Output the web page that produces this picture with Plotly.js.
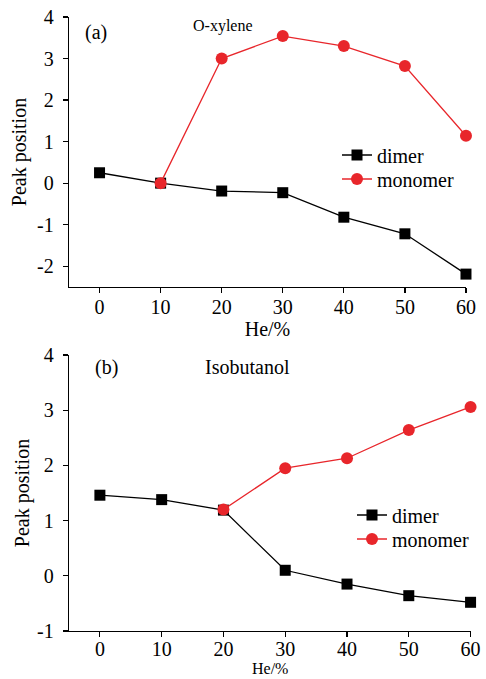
<!DOCTYPE html>
<html>
<head>
<meta charset="utf-8">
<script src="https://cdn.plot.ly/plotly-3.0.1.min.js"></script>
<style>html,body{margin:0;padding:0;background:#fff;}#chart{width:486px;height:679px;}</style>
</head>
<body>
<div id="chart"></div>
<script>
// ---- data ----
const heliumPct = [0, 10, 20, 30, 40, 50, 60];
const xyleneDimer = [0.25, 0.0, -0.19, -0.23, -0.82, -1.22, -2.19];
const xyleneMonomerX = [10, 20, 30, 40, 50, 60];
const xyleneMonomer = [0.0, 3.0, 3.54, 3.30, 2.82, 1.14];
const isobutanolDimer = [1.46, 1.38, 1.19, 0.10, -0.15, -0.36, -0.48];
const isobutanolMonomerX = [20, 30, 40, 50, 60];
const isobutanolMonomer = [1.2, 1.95, 2.13, 2.64, 3.06];
const xTicks = [0, 10, 20, 30, 40, 50, 60];
const yTicksTop = [-2, -1, 0, 1, 2, 3, 4];
const yTickTextTop = ['-2', '-1', '0', '1', '2', '3', '4'];
const yTicksBottom = [-1, 0, 1, 2, 3, 4];
const yTickTextBottom = ['-1', '0', '1', '2', '3', '4'];

const FONT = 'Liberation Serif';
const RED = '#e8262b';
const BLACK = '#000000';
const FS = 20;

function dimerTrace(x, y, xa, ya, leg) {
  return {x: x, y: y, xaxis: xa, yaxis: ya, name: 'dimer', legend: leg,
    mode: 'lines+markers', cliponaxis: false,
    line: {color: BLACK, width: 1.3},
    marker: {symbol: 'square', size: 11, color: BLACK}};
}
function monomerTrace(x, y, xa, ya, leg) {
  return {x: x, y: y, xaxis: xa, yaxis: ya, name: 'monomer', legend: leg,
    mode: 'lines+markers', cliponaxis: false,
    line: {color: RED, width: 1.3},
    marker: {symbol: 'circle', size: 12, color: RED}};
}

const data = [
  dimerTrace(heliumPct, xyleneDimer, 'x', 'y', 'legend'),
  monomerTrace(xyleneMonomerX, xyleneMonomer, 'x', 'y', 'legend2'),
  dimerTrace(heliumPct, isobutanolDimer, 'x2', 'y2', 'legend3'),
  monomerTrace(isobutanolMonomerX, isobutanolMonomer, 'x2', 'y2', 'legend4')
];

function xAxis(domain, anchor, titleText, labelShift) {
  return {domain: domain, anchor: anchor, range: [-5, 60], tickvals: xTicks,
    showline: true, linecolor: BLACK, linewidth: 1.3, ticks: 'outside', ticklen: 5,
    tickwidth: 1.2, tickcolor: BLACK, showgrid: false, zeroline: false,
    ticklabelstandoff: labelShift,
    tickfont: {family: FONT, size: FS, color: BLACK},
    title: {text: titleText, font: {family: FONT, size: FS, color: BLACK}, standoff: 3}};
}
function yAxis(domain, anchor, range, vals, text, standoff) {
  return {domain: domain, anchor: anchor, range: range, tickvals: vals, ticktext: text,
    showline: true, linecolor: BLACK, linewidth: 1.3, ticks: 'outside', ticklen: 5,
    tickwidth: 1.2, tickcolor: BLACK, showgrid: false, zeroline: false,
    ticklabelstandoff: 5,
    tickfont: {family: FONT, size: FS, color: BLACK},
    title: {text: 'Peak position', font: {family: FONT, size: FS, color: BLACK}, standoff: standoff}};
}
function legendAt(px, py) {
  return {x: (px - 69) / 417, y: (631 - py) / 614, xanchor: 'left', yanchor: 'middle',
    bgcolor: 'rgba(0,0,0,0)', borderwidth: 0,
    font: {family: FONT, size: FS, color: BLACK}};
}
function note(text, px, py, size, yanchor) {
  return {text: text, xref: 'paper', yref: 'paper', x: (px - 69) / 417, y: (631 - py) / 614,
    xanchor: 'center', yanchor: yanchor || 'middle', showarrow: false,
    font: {family: FONT, size: size, color: BLACK}};
}

const layout = {
  width: 486, height: 679,
  paper_bgcolor: '#ffffff', plot_bgcolor: '#ffffff',
  margin: {l: 69, r: 0, t: 17, b: 48},
  font: {family: FONT, color: BLACK},
  xaxis: xAxis([0, 0.952], 'y', 'He/%', -3),
  yaxis: yAxis([0.5603, 1], 'x', [-2.5, 4], yTicksTop, yTickTextTop, 5),
  xaxis2: xAxis([0, 0.963], 'y2', '', -5),
  yaxis2: yAxis([0, 0.4495], 'x2', [-1, 4], yTicksBottom, yTickTextBottom, 2),
  legend: legendAt(337, 155),
  legend2: legendAt(337, 179),
  legend3: legendAt(352, 515),
  legend4: legendAt(352, 539),
  showlegend: true,
  annotations: [
    note('(a)', 96, 32, FS),
    note('O-xylene', 223, 26, 16),
    note('(b)', 106, 367, FS),
    note('Isobutanol', 247, 367, FS),
    note('He/%', (69 + 470.7) / 2, 678.5, 16, 'bottom')
  ]
};

Plotly.newPlot('chart', data, layout, {displayModeBar: false, staticPlot: true});
</script>
</body>
</html>
